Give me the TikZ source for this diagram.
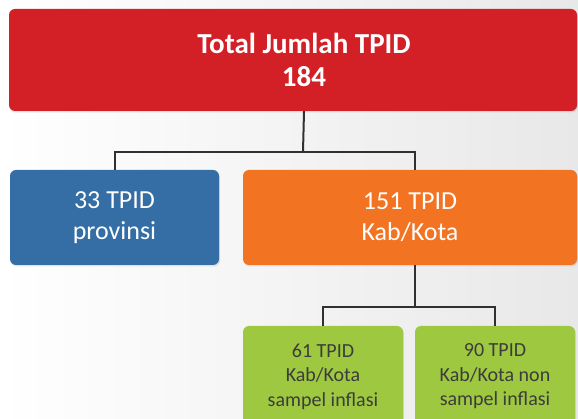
\documentclass[tikz,border=0pt]{standalone}
\usepackage{fontspec}
\setmainfont{Carlito}
\usetikzlibrary{positioning,shadows}
\definecolor{tpidred}{RGB}{211,32,39}
\definecolor{tpidblue}{RGB}{52,110,165}
\definecolor{tpidorange}{RGB}{242,115,33}
\definecolor{tpidgreen}{RGB}{157,200,64}
\definecolor{linegray}{RGB}{48,48,48}
\definecolor{textgray}{RGB}{60,60,60}
\tikzset{box/.style={rounded corners=6pt,inner sep=0pt,align=center,text=white,
  drop shadow={opacity=0.2,shadow xshift=1pt,shadow yshift=-1.5pt}}}
\tikzset{midfont/.style={font=\fontsize{26}{31}\selectfont}}
\tikzset{smallfont/.style={font=\fontsize{20}{24.5}\selectfont}}
\tikzset{link/.style={line width=2pt,draw=linegray}}

\begin{document}
\begin{tikzpicture}[x=1pt,y=-1pt]
  \useasboundingbox (0,0) rectangle (578,419);
  \clip (0,0) rectangle (578,419);
  \shade[left color=white,right color=black!9] (0,0) rectangle (578,419);
  % top
  \node[box,fill=tpidred,minimum width=568pt,minimum height=102pt] (total) at (293,60) {};
  \node[align=center,text=white,inner sep=0pt,font=\fontsize{29}{33}\selectfont\bfseries] (totaltxt) at (304,60) {Total Jumlah TPID\\184};
  % second row
  \node[box,midfont,fill=tpidblue,minimum width=209pt,minimum height=95pt] (prov) at (114.5,217.5) {33 TPID\\provinsi};
  \node[box,midfont,fill=tpidorange,minimum width=334pt,minimum height=95pt] (kab) at (410,217.5) {151 TPID\\Kab/Kota};
  % third row
  \node[box,smallfont,text=textgray,fill=tpidgreen,minimum width=160pt,minimum height=101pt] (sampel) at (323,376.5) {61 TPID\\Kab/Kota\\sampel inflasi};
  \node[box,smallfont,text=textgray,fill=tpidgreen,minimum width=160pt,minimum height=101pt] (nonsampel) at (495,376.5) {90 TPID\\Kab/Kota non\\sampel inflasi};
  % links
  \coordinate (split1) at (303,152);
  \coordinate (split2) at (415,307);
  \draw[link] (totaltxt |- total.south) -- (split1);
  \draw[link] (prov.north) |- (split1) -| ([xshift=5pt]kab.north);
  \draw[link] ([xshift=5pt]kab.south) -- (split2);
  \draw[link] (sampel.north) |- (split2) -| (nonsampel.north);
\end{tikzpicture}
\end{document}
